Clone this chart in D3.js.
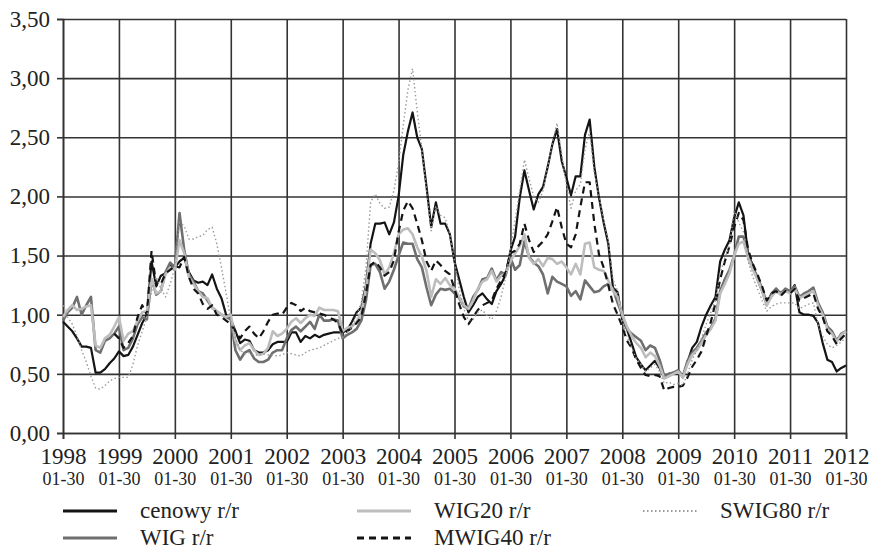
<!doctype html>
<html>
<head>
<meta charset="utf-8">
<script src="https://cdnjs.cloudflare.com/ajax/libs/d3/7.8.5/d3.min.js"></script>
<style>
  body { margin: 0; background: #fff; }
  text { font-family: "Liberation Serif", "Times New Roman", serif; fill: #222; }
</style>
</head>
<body>
<svg id="chart" width="869" height="550"></svg>
<script>
// x categories: one point per month, 1998-01-30 .. 2012-01-30
const yearLabels = ["1998","1999","2000","2001","2002","2003","2004","2005","2006","2007","2008","2009","2010","2011","2012"];
const dayLabel = "01-30";
const yTicks = [0, 0.5, 1, 1.5, 2, 2.5, 3, 3.5];

const seriesNames = ["cenowy r/r", "WIG r/r", "WIG20 r/r", "MWIG40 r/r", "SWIG80 r/r"];

const cenowy = [
  0.94,0.90,0.86,0.80,0.73,0.73,0.72,0.51,0.51,0.54,0.59,0.63, // 1998
  0.69,0.65,0.66,0.73,0.83,0.93,1.00,1.45,1.24,1.33,1.35,1.42, // 1999
  1.40,1.45,1.48,1.36,1.29,1.27,1.28,1.25,1.34,1.22,1.14,1.00, // 2000
  0.96,0.86,0.76,0.79,0.78,0.70,0.68,0.68,0.70,0.75,0.77,0.77, // 2001
  0.77,0.85,0.85,0.77,0.82,0.80,0.83,0.81,0.83,0.84,0.85,0.85, // 2002
  0.85,0.87,0.94,1.02,1.06,1.25,1.60,1.77,1.77,1.78,1.68,1.78, // 2003
  2.00,2.35,2.55,2.71,2.50,2.40,2.08,1.74,1.95,1.77,1.77,1.68, // 2004
  1.45,1.30,1.15,1.02,1.08,1.15,1.18,1.13,1.09,1.20,1.26,1.34, // 2005
  1.54,1.66,1.99,2.22,2.05,1.89,2.02,2.08,2.25,2.44,2.57,2.30, // 2006
  2.16,2.01,2.17,2.17,2.52,2.65,2.25,1.99,1.78,1.60,1.23,1.19, // 2007
  0.96,0.88,0.76,0.64,0.58,0.53,0.57,0.61,0.55,0.47,0.50,0.51, // 2008
  0.53,0.47,0.60,0.72,0.77,0.90,1.00,1.08,1.15,1.45,1.55,1.63, // 2009
  1.82,1.95,1.84,1.51,1.42,1.30,1.20,1.08,1.18,1.22,1.17,1.20, // 2010
  1.19,1.25,1.02,1.00,1.00,0.99,0.93,0.76,0.62,0.60,0.52,0.55, // 2011
  0.57                                                         // 2012
];

const wig = [
  0.95,1.02,1.06,1.15,1.00,1.08,1.15,0.70,0.68,0.78,0.80,0.84,
  0.90,0.70,0.72,0.80,0.92,0.98,0.96,1.30,1.17,1.20,1.36,1.44,
  1.40,1.86,1.55,1.34,1.28,1.20,1.18,1.12,1.06,1.03,1.00,0.98,
  0.96,0.70,0.62,0.68,0.70,0.63,0.60,0.60,0.62,0.68,0.70,0.70,
  0.80,0.87,0.90,0.86,0.90,0.94,0.88,1.00,0.95,0.95,0.96,0.95,
  0.80,0.83,0.85,0.88,0.95,1.12,1.42,1.43,1.36,1.22,1.28,1.38,
  1.50,1.61,1.60,1.60,1.47,1.40,1.23,1.08,1.17,1.22,1.21,1.22,
  1.18,1.14,1.07,1.05,1.15,1.21,1.30,1.31,1.39,1.29,1.36,1.34,
  1.48,1.38,1.42,1.62,1.49,1.44,1.41,1.34,1.18,1.32,1.28,1.26,
  1.24,1.16,1.20,1.13,1.29,1.24,1.19,1.20,1.24,1.26,1.22,1.10,
  1.00,0.88,0.84,0.81,0.78,0.70,0.74,0.72,0.62,0.48,0.50,0.51,
  0.53,0.48,0.61,0.68,0.72,0.78,0.85,0.89,0.97,1.20,1.30,1.38,
  1.50,1.66,1.66,1.50,1.40,1.32,1.22,1.10,1.17,1.22,1.18,1.22,
  1.20,1.24,1.15,1.18,1.20,1.23,1.10,1.02,0.90,0.86,0.78,0.84,
  0.86
];

const wig20 = [
  0.98,1.04,1.08,1.04,1.05,1.07,1.08,0.74,0.72,0.80,0.83,0.90,
  0.98,0.78,0.84,0.86,0.95,1.02,1.03,1.30,1.18,1.20,1.34,1.40,
  1.38,1.63,1.52,1.32,1.26,1.20,1.15,1.14,1.06,1.03,1.00,0.98,
  1.00,0.78,0.70,0.74,0.76,0.70,0.66,0.67,0.72,0.86,0.82,0.84,
  0.88,0.94,0.97,0.93,0.97,1.00,0.99,1.06,1.04,1.04,1.04,1.03,
  0.86,0.89,0.90,0.94,1.02,1.22,1.55,1.52,1.46,1.34,1.40,1.52,
  1.68,1.72,1.73,1.68,1.57,1.49,1.37,1.15,1.30,1.26,1.31,1.25,
  1.22,1.15,1.08,1.05,1.12,1.22,1.28,1.30,1.37,1.28,1.33,1.35,
  1.45,1.52,1.58,1.68,1.48,1.43,1.47,1.41,1.48,1.47,1.43,1.45,
  1.40,1.34,1.43,1.34,1.60,1.61,1.40,1.38,1.37,1.29,1.20,1.15,
  1.00,0.90,0.82,0.76,0.72,0.64,0.68,0.65,0.57,0.46,0.48,0.50,
  0.52,0.47,0.58,0.66,0.70,0.76,0.83,0.88,0.95,1.18,1.26,1.35,
  1.50,1.60,1.62,1.48,1.38,1.30,1.20,1.08,1.15,1.20,1.17,1.20,
  1.18,1.22,1.14,1.16,1.18,1.20,1.08,1.00,0.88,0.84,0.77,0.83,
  0.86
];

// mWIG40 r/r starts at end of 1998
const mwig40 = [
  null,null,null,null,null,null,null,null,null,null,null,0.84,
  0.80,0.72,0.76,0.82,0.98,1.08,1.00,1.54,1.25,1.26,1.35,1.38,
  1.41,1.40,1.49,1.32,1.22,1.18,1.09,1.05,1.08,1.00,0.98,0.95,
  0.92,0.86,0.80,0.86,0.90,0.84,0.80,0.86,0.94,1.00,1.01,1.00,
  1.06,1.10,1.08,1.03,1.06,1.03,1.02,1.01,1.00,0.98,0.96,0.93,
  0.84,0.86,0.89,0.93,0.98,1.18,1.42,1.45,1.40,1.33,1.36,1.46,
  1.70,1.88,1.96,1.90,1.77,1.63,1.45,1.37,1.46,1.42,1.37,1.34,
  1.22,1.09,0.98,0.92,0.98,1.04,1.08,1.10,1.12,1.22,1.29,1.36,
  1.52,1.54,1.60,1.77,1.63,1.53,1.58,1.62,1.68,1.79,1.91,1.74,
  1.60,1.57,1.68,1.91,2.12,2.12,1.77,1.51,1.40,1.25,1.09,1.00,
  0.90,0.78,0.72,0.62,0.55,0.49,0.48,0.49,0.48,0.36,0.38,0.39,
  0.39,0.40,0.47,0.56,0.62,0.69,0.82,0.94,1.10,1.30,1.45,1.58,
  1.74,1.86,1.80,1.55,1.43,1.34,1.24,1.12,1.18,1.20,1.16,1.20,
  1.18,1.22,1.12,1.14,1.16,1.18,1.05,0.98,0.86,0.82,0.75,0.80,
  0.84
];

const swig80 = [
  1.08,0.98,0.92,0.82,0.70,0.60,0.48,0.38,0.37,0.40,0.44,0.46,
  0.47,0.47,0.47,0.58,0.74,0.86,0.98,1.20,1.32,1.22,1.15,1.26,
  1.40,1.78,1.75,1.64,1.64,1.66,1.67,1.72,1.74,1.60,1.40,1.18,
  0.95,0.80,0.70,0.67,0.68,0.66,0.66,0.67,0.66,0.66,0.65,0.66,
  0.68,0.67,0.66,0.65,0.68,0.70,0.71,0.72,0.74,0.76,0.78,0.80,
  0.81,0.85,0.90,1.00,1.10,1.40,1.95,2.02,1.94,1.90,1.91,2.05,
  2.28,2.60,2.90,3.08,2.72,2.40,2.05,1.71,1.92,1.84,1.82,1.68,
  1.45,1.22,1.05,0.95,0.96,1.02,1.04,0.99,0.96,1.03,1.15,1.32,
  1.55,1.80,2.05,2.31,2.15,2.00,1.95,2.05,2.25,2.45,2.62,2.35,
  2.10,1.90,2.05,2.10,2.40,2.55,2.20,2.00,1.80,1.62,1.30,1.20,
  0.95,0.82,0.72,0.63,0.58,0.52,0.55,0.58,0.52,0.42,0.43,0.41,
  0.42,0.40,0.50,0.62,0.70,0.80,0.92,1.02,1.12,1.35,1.48,1.58,
  1.88,1.78,1.70,1.45,1.32,1.22,1.12,1.03,1.07,1.09,1.10,1.10,
  1.10,1.10,1.05,1.07,1.09,1.10,0.92,0.82,0.75,0.72,0.74,0.77,
  0.81
];

const allSeries = [cenowy, wig, wig20, mwig40, swig80];
const styles = [
  { stroke: "#141414", width: 2.2, dash: null },
  { stroke: "#6f6f6f", width: 2.6, dash: null },
  { stroke: "#bdbdbd", width: 2.6, dash: null },
  { stroke: "#141414", width: 2.2, dash: "7,5" },
  { stroke: "#9a9a9a", width: 1.4, dash: "1.5,2.5" }
];

const svg = d3.select("#chart");
const plotLeft = 63, plotRight = 846, plotTop = 19, plotBottom = 433;
const nMonths = cenowy.length - 1;

const x = d3.scaleLinear().domain([0, nMonths]).range([plotLeft, plotRight]);
const y = d3.scaleLinear().domain([0, 3.5]).range([plotBottom, plotTop]);
const yearIdx = yearLabels.map((d, i) => i * 12);

// grid
svg.append("g")
  .attr("transform", `translate(${plotLeft},0)`)
  .call(d3.axisLeft(y).tickValues(yTicks).tickSize(-(plotRight - plotLeft)).tickFormat(""))
  .call(g => g.select(".domain").remove())
  .selectAll("line").attr("stroke", "#333").attr("stroke-width", 1.6);

svg.append("g")
  .attr("transform", `translate(0,${plotTop})`)
  .call(d3.axisBottom(x).tickValues(yearIdx).tickSize(plotBottom - plotTop).tickFormat(""))
  .call(g => g.select(".domain").remove())
  .selectAll("line").attr("stroke", "#333").attr("stroke-width", 1.6);

// y axis
const yAxis = svg.append("g")
  .attr("transform", `translate(${plotLeft},0)`)
  .call(d3.axisLeft(y).tickValues(yTicks).tickSize(6).tickPadding(7)
    .tickFormat(d => d.toFixed(2).replace(".", ",")));
yAxis.select(".domain").attr("stroke", "#333").attr("stroke-width", 1.6);
yAxis.selectAll("line").attr("stroke", "#333").attr("stroke-width", 1.6);
yAxis.selectAll("text").style("font-size", "23px").attr("fill", "#222");

// x axis
const xAxis = svg.append("g")
  .attr("transform", `translate(0,${plotBottom})`)
  .call(d3.axisBottom(x).tickValues(yearIdx).tickSize(6).tickPadding(9)
    .tickFormat((d, i) => yearLabels[i]));
xAxis.select(".domain").attr("stroke", "#333").attr("stroke-width", 1.6);
xAxis.selectAll("line").attr("stroke", "#333").attr("stroke-width", 1.6);
xAxis.selectAll("text").style("font-size", "23px").attr("fill", "#222");
xAxis.selectAll(".tick").append("text")
  .attr("y", 52).attr("text-anchor", "middle")
  .style("font-size", "18px").attr("fill", "#222")
  .text(dayLabel);

// series
const line = d3.line()
  .defined(d => d != null)
  .x((d, i) => x(i))
  .y(d => y(d));

svg.append("g").selectAll("path")
  .data(allSeries)
  .join("path")
  .attr("fill", "none")
  .attr("stroke", (d, i) => styles[i].stroke)
  .attr("stroke-width", (d, i) => styles[i].width)
  .attr("stroke-dasharray", (d, i) => styles[i].dash)
  .attr("stroke-linejoin", "round")
  .attr("d", line);

// legend: 3 columns x 2 rows, filled column-wise
const colX = [63, 357, 643];
const rowY = [511, 538];
const legend = svg.append("g").selectAll("g")
  .data(seriesNames)
  .join("g")
  .attr("transform", (d, i) => `translate(${colX[Math.floor(i / 2)]},${rowY[i % 2]})`);

legend.append("line")
  .attr("x1", 0).attr("x2", 54)
  .attr("stroke", (d, i) => styles[i].stroke)
  .attr("stroke-width", (d, i) => styles[i].width + 0.6)
  .attr("stroke-dasharray", (d, i) => styles[i].dash);

legend.append("text")
  .attr("x", 77).attr("y", 7)
  .style("font-size", "23px")
  .text(d => d);
</script>
</body>
</html>
